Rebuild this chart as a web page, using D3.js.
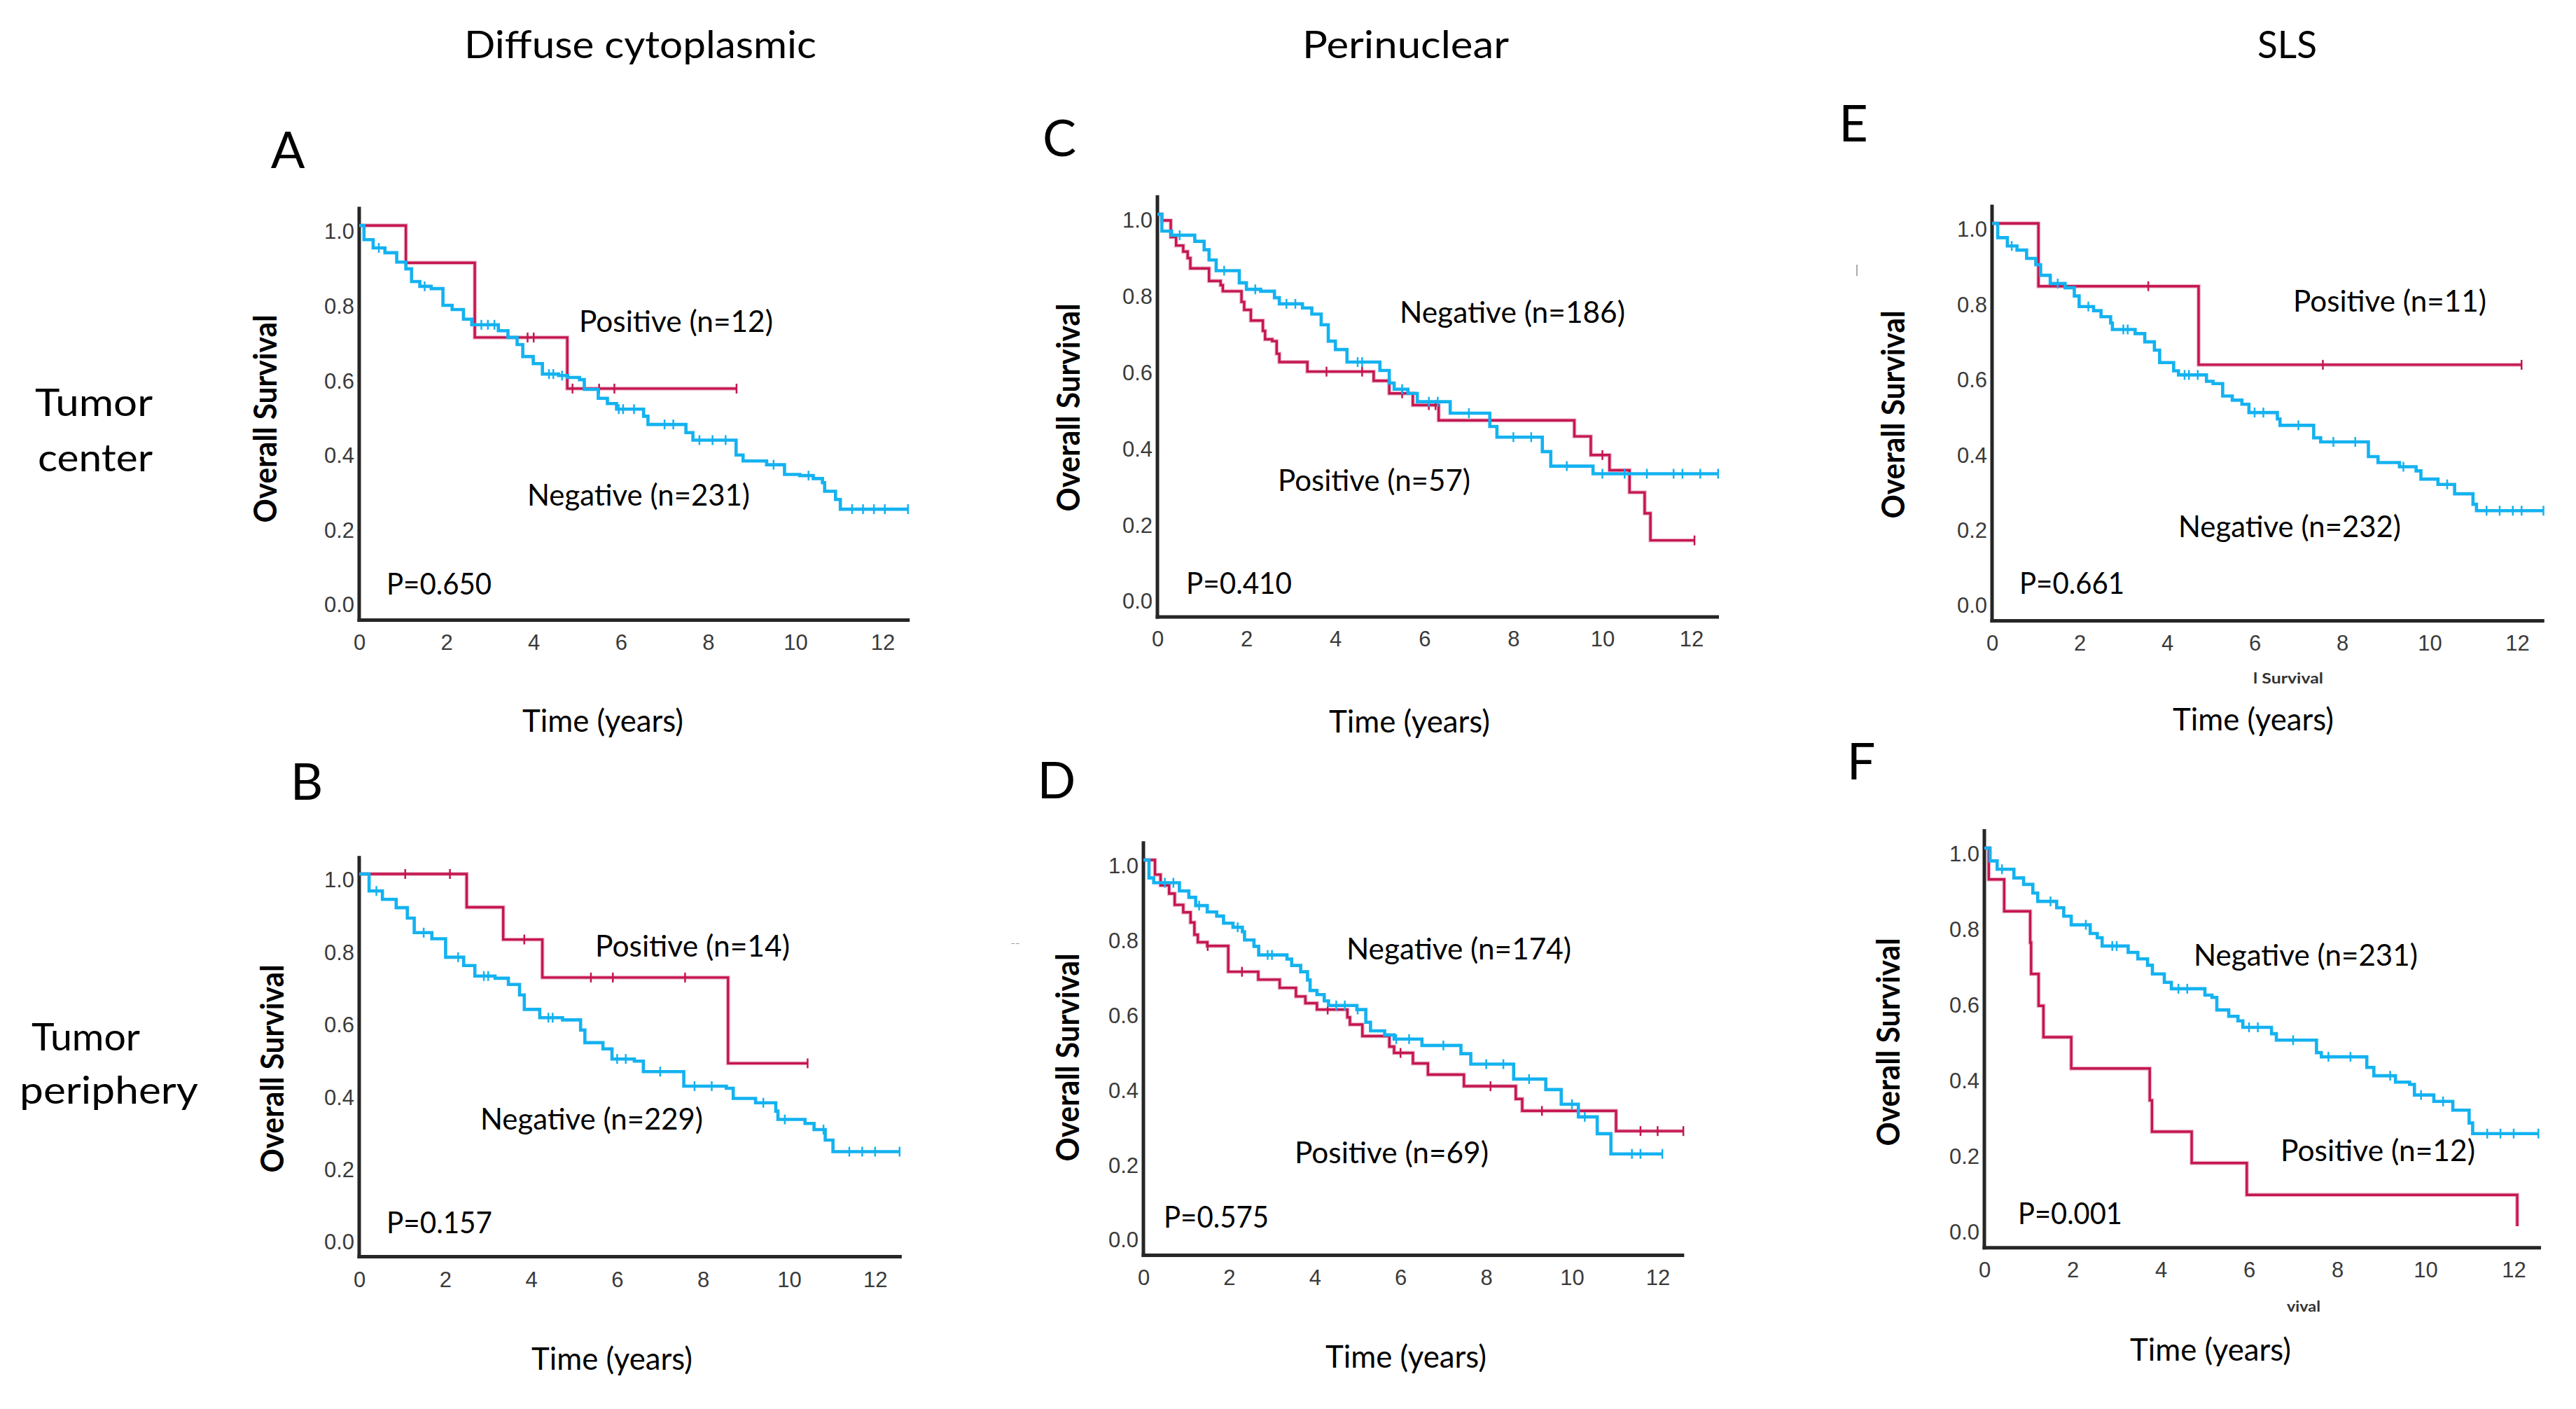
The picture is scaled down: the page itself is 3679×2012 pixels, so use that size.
<!DOCTYPE html>
<html>
<head>
<meta charset="utf-8">
<script src="https://cdn.jsdelivr.net/npm/d3@7"></script>
<style>
  html, body { margin: 0; padding: 0; background: #ffffff; }
  svg { display: block; }
</style>
</head>
<body>
<svg id="chart" width="3679" height="2012"></svg>
<script>
// ---------------- DATA ----------------
const xTicks = [0, 2, 4, 6, 8, 10, 12];
const yTicks = [0, 0.2, 0.4, 0.6, 0.8, 1.0];
const yTickLabels = ["0.0", "0.2", "0.4", "0.6", "0.8", "1.0"];
const colHeaders = ["Diffuse cytoplasmic", "Perinuclear", "SLS"];
const rowLabelsTop = ["Tumor", "center"];
const rowLabelsBottom = ["Tumor", "periphery"];
const panelIds = ["A", "B", "C", "D", "E", "F"];
const yAxisTitle = "Overall Survival";
const xAxisTitle = "Time (years)";

// Panel A (Diffuse cytoplasmic, tumor center)
const aPosT = [0, 1.07, 2.65, 4.77, 8.65];
const aPosS = [1, 0.9, 0.70, 0.563, 0.563];
const aPosCensor = [3.86, 4.0, 4.89, 5.5, 5.85, 8.65];
const aNegT = [0, 0.11, 0.32, 0.59, 0.86, 1.07, 1.2, 1.39, 1.65, 1.92, 2.13, 2.39, 2.58, 3.19, 3.41, 3.62, 3.75, 3.99, 4.2, 4.57, 4.78, 5.05, 5.16, 5.48, 5.69, 5.9, 6.52, 6.62, 7.49, 7.65, 8.64, 8.8, 9.34, 9.75, 10.1, 10.41, 10.62, 10.67, 10.92, 11.03, 12.58];
const aNegS = [1, 0.962, 0.94, 0.927, 0.902, 0.884, 0.85, 0.837, 0.831, 0.786, 0.775, 0.749, 0.734, 0.718, 0.70, 0.681, 0.649, 0.63, 0.602, 0.598, 0.593, 0.587, 0.561, 0.537, 0.523, 0.508, 0.489, 0.467, 0.445, 0.425, 0.385, 0.369, 0.359, 0.333, 0.33, 0.322, 0.311, 0.288, 0.266, 0.24, 0.24];
const aNegCensor = [0.45, 1.5, 2.8, 2.95, 3.1, 4.35, 4.45, 4.65, 5.95, 6.05, 6.3, 7.0, 7.2, 7.8, 8.1, 8.4, 9.5, 10.3, 11.3, 11.55, 11.8, 12.05, 12.58];
const aTexts = ["Positive (n=12)", "Negative (n=231)", "P=0.650"];

// Panel B (Diffuse cytoplasmic, tumor periphery)
const bPosT = [0, 2.5, 3.35, 4.26, 8.58, 10.43];
const bPosS = [1, 0.908, 0.819, 0.714, 0.477, 0.477];
const bPosCensor = [1.07, 2.11, 3.84, 5.39, 5.9, 7.58, 10.43];
const bNegT = [0, 0.23, 0.54, 0.86, 1.12, 1.28, 1.69, 2.01, 2.43, 2.69, 3.16, 3.47, 3.73, 3.84, 4.2, 4.73, 5.15, 5.25, 5.67, 5.88, 6.4, 6.61, 7.55, 8.54, 8.7, 9.22, 9.69, 9.74, 10.37, 10.58, 10.84, 11.02, 12.57];
const bNegS = [1, 0.953, 0.93, 0.907, 0.878, 0.838, 0.821, 0.77, 0.747, 0.718, 0.712, 0.695, 0.666, 0.626, 0.603, 0.597, 0.569, 0.534, 0.517, 0.489, 0.483, 0.454, 0.414, 0.408, 0.38, 0.368, 0.345, 0.322, 0.311, 0.294, 0.265, 0.233, 0.233];
const bNegCensor = [0.4, 1.5, 2.3, 2.9, 3.0, 4.4, 4.5, 6.0, 6.2, 7.0, 7.8, 8.2, 9.4, 9.9, 10.8, 11.4, 11.7, 12.0, 12.57];
const bTexts = ["Positive (n=14)", "Negative (n=229)", "P=0.157"];

// Panel C (Perinuclear, tumor center)
const cPosT = [0, 0.1, 0.3, 0.42, 0.58, 0.68, 0.74, 1.16, 1.42, 1.47, 1.89, 1.95, 2.1, 2.37, 2.42, 2.58, 2.68, 2.74, 3.37, 4.86, 5.21, 5.74, 6.32, 9.37, 9.74, 10.16, 10.61, 10.95, 11.08, 12.07];
const cPosS = [1, 0.984, 0.94, 0.918, 0.902, 0.885, 0.858, 0.825, 0.814, 0.798, 0.77, 0.749, 0.721, 0.694, 0.672, 0.667, 0.634, 0.612, 0.587, 0.563, 0.53, 0.499, 0.459, 0.417, 0.368, 0.328, 0.27, 0.215, 0.144, 0.144];
const cPosCensor = [3.8, 4.6, 5.5, 6.1, 6.25, 10.0, 12.07];
const cNegT = [0, 0.1, 0.32, 0.84, 1.05, 1.16, 1.32, 1.84, 2.0, 2.32, 2.63, 2.74, 3.26, 3.47, 3.68, 3.84, 4.0, 4.26, 5.0, 5.21, 5.32, 5.63, 5.84, 6.58, 7.47, 7.63, 8.65, 8.84, 9.79, 12.6];
const cNegS = [1, 0.956, 0.945, 0.929, 0.907, 0.88, 0.852, 0.82, 0.803, 0.798, 0.781, 0.765, 0.754, 0.738, 0.71, 0.667, 0.645, 0.612, 0.59, 0.557, 0.541, 0.53, 0.508, 0.478, 0.443, 0.415, 0.377, 0.339, 0.319, 0.319];
const cNegCensor = [0.5, 1.5, 2.2, 2.9, 3.1, 4.5, 4.6, 5.5, 6.1, 6.3, 7.0, 8.0, 8.4, 9.2, 10.0, 10.5, 11.0, 11.6, 11.8, 12.2, 12.6];
const cTexts = ["Negative (n=186)", "Positive (n=57)", "P=0.410"];

// Panel D (Perinuclear, tumor periphery)
const dPosT = [0, 0.27, 0.4, 0.6, 0.73, 0.93, 1.1, 1.19, 1.27, 1.49, 1.98, 2.68, 3.18, 3.56, 3.78, 4.05, 4.76, 4.82, 5.11, 5.74, 5.85, 6.29, 6.64, 7.48, 8.69, 8.84, 11.03, 12.6];
const dPosS = [1, 0.961, 0.932, 0.91, 0.88, 0.86, 0.833, 0.80, 0.78, 0.77, 0.701, 0.68, 0.658, 0.635, 0.617, 0.6, 0.579, 0.56, 0.529, 0.501, 0.484, 0.456, 0.426, 0.395, 0.361, 0.329, 0.275, 0.275];
const dPosCensor = [1.5, 2.3, 4.3, 6.0, 8.1, 9.3, 11.6, 12.0, 12.6];
const dNegT = [0, 0.13, 0.24, 0.84, 1.06, 1.22, 1.49, 1.71, 1.87, 2.09, 2.31, 2.36, 2.58, 2.69, 3.35, 3.46, 3.67, 3.83, 3.89, 4.05, 4.22, 4.32, 4.98, 5.19, 5.3, 5.63, 5.85, 6.5, 7.41, 7.64, 8.64, 9.39, 9.75, 10.15, 10.59, 10.91, 12.11];
const dNegS = [1, 0.952, 0.939, 0.917, 0.9, 0.878, 0.861, 0.85, 0.831, 0.82, 0.808, 0.786, 0.769, 0.746, 0.735, 0.718, 0.701, 0.679, 0.651, 0.64, 0.623, 0.611, 0.6, 0.566, 0.543, 0.532, 0.521, 0.504, 0.482, 0.454, 0.414, 0.386, 0.347, 0.313, 0.268, 0.214, 0.214];
const dNegCensor = [0.5, 0.7, 1.3, 2.2, 2.9, 3.0, 4.5, 4.7, 5.0, 5.9, 6.2, 7.0, 8.0, 8.4, 9.0, 10.0, 10.3, 11.4, 11.6, 12.11];
const dTexts = ["Negative (n=174)", "Positive (n=69)", "P=0.575"];

// Panel E (SLS, tumor center)
const ePosT = [0, 1.06, 4.72, 12.1];
const ePosS = [1, 0.833, 0.624, 0.624];
const ePosCensor = [3.57, 7.56, 12.1];
const eNegT = [0, 0.13, 0.35, 0.57, 0.79, 1.0, 1.11, 1.33, 1.67, 1.88, 1.99, 2.32, 2.49, 2.71, 2.75, 3.27, 3.49, 3.71, 3.83, 4.15, 4.26, 4.9, 5.05, 5.27, 5.49, 5.71, 5.87, 6.52, 6.58, 7.35, 7.51, 8.6, 8.82, 9.31, 9.69, 9.8, 10.19, 10.57, 10.99, 11.07, 12.6];
const eNegS = [1, 0.962, 0.94, 0.929, 0.907, 0.89, 0.862, 0.84, 0.829, 0.807, 0.779, 0.768, 0.752, 0.735, 0.718, 0.707, 0.685, 0.663, 0.63, 0.608, 0.597, 0.58, 0.574, 0.541, 0.53, 0.519, 0.497, 0.48, 0.463, 0.43, 0.419, 0.38, 0.364, 0.353, 0.342, 0.32, 0.306, 0.281, 0.253, 0.236, 0.236];
const eNegCensor = [0.45, 1.5, 2.2, 3.0, 3.1, 4.4, 4.5, 4.7, 6.0, 6.2, 7.0, 7.8, 8.3, 9.4, 10.4, 11.3, 11.6, 11.9, 12.1, 12.6];
const eTexts = ["Positive (n=11)", "Negative (n=232)", "P=0.661"];

// Panel F (SLS, tumor periphery)
const fPosT = [0, 0.1, 0.45, 1.04, 1.06, 1.23, 1.34, 1.97, 3.75, 3.8, 4.7, 5.95, 12.08];
const fPosS = [1, 0.917, 0.833, 0.75, 0.667, 0.583, 0.5, 0.417, 0.333, 0.25, 0.167, 0.083, 0.0];
const fPosCensor = [];
const fNegT = [0, 0.13, 0.29, 0.67, 0.89, 1.10, 1.21, 1.64, 1.8, 1.97, 2.4, 2.56, 2.67, 3.26, 3.48, 3.7, 3.81, 4.08, 4.24, 5.0, 5.16, 5.27, 5.54, 5.75, 5.86, 6.51, 6.62, 7.53, 7.64, 8.67, 8.83, 9.32, 9.64, 9.75, 10.19, 10.62, 10.99, 11.07, 12.56];
const fNegS = [1, 0.966, 0.944, 0.921, 0.904, 0.881, 0.859, 0.842, 0.82, 0.797, 0.774, 0.763, 0.741, 0.724, 0.707, 0.69, 0.667, 0.645, 0.628, 0.611, 0.605, 0.572, 0.555, 0.543, 0.526, 0.509, 0.492, 0.459, 0.448, 0.42, 0.398, 0.381, 0.375, 0.347, 0.33, 0.307, 0.273, 0.245, 0.245];
const fNegCensor = [0.4, 1.5, 2.3, 2.9, 3.0, 4.4, 4.6, 6.0, 6.2, 7.0, 7.8, 8.3, 9.2, 9.9, 10.4, 11.4, 11.7, 12.0, 12.56];
const fTexts = ["Negative (n=231)", "Positive (n=12)", "P=0.001"];

// ---------------- LAYOUT / STYLE ----------------
const COLOR_NEG = "#14B2F0";
const COLOR_POS = "#C4164F";
const AXIS_COLOR = "#262626";
const TEXT_FONT = "Lato, 'Open Sans', sans-serif";
const TICK_FONT = "'Liberation Sans', Arial, sans-serif";

// per-panel geometry: x0 = pixel of t=0, ppy = px per year, y1 = pixel of S=1, ppu = px per unit survival
const layout = {
  A: { x0: 513,  ppy: 62.3,  y1: 322,  ppu: 533, title: [411, 214],  ylab: [378, 598],  xlab: [861, 1029],
       texts: [[827, 1104, 459], [753, 1071, 707], [552, 702, 834]] },
  B: { x0: 513,  ppy: 61.4,  y1: 1248, ppu: 517, title: [438, 1116], ylab: [388, 1526], xlab: [874, 1940],
       texts: [[850, 1128, 1351], [686, 1004, 1598], [552, 703, 1746]] },
  C: { x0: 1653, ppy: 63.55, y1: 306,  ppu: 544, title: [1513, 197], ylab: [1525, 582], xlab: [2013, 1030],
       texts: [[1999, 2321, 446], [1825, 2100, 686], [1694, 1845, 833]] },
  D: { x0: 1633, ppy: 61.2,  y1: 1228, ppu: 534, title: [1509, 1114], ylab: [1524, 1510], xlab: [2008, 1937],
       texts: [[1923, 2244, 1355], [1849, 2126, 1646], [1662, 1812, 1738]] },
  E: { x0: 2845, ppy: 62.5,  y1: 319,  ppu: 537, title: [2647, 176], ylab: [2703, 592], xlab: [3218, 1027],
       texts: [[3275, 3551, 430], [3111, 3429, 752], [2884, 3034, 833]] },
  F: { x0: 2834, ppy: 63.0,  y1: 1211, ppu: 540, title: [2658, 1087], ylab: [2696, 1488], xlab: [3157, 1927],
       texts: [[3133, 3453, 1364], [3257, 3535, 1643], [2882, 3031, 1733]] }
};

const series = {
  A: { pos: [aPosT, aPosS, aPosCensor], neg: [aNegT, aNegS, aNegCensor], texts: aTexts },
  B: { pos: [bPosT, bPosS, bPosCensor], neg: [bNegT, bNegS, bNegCensor], texts: bTexts },
  C: { pos: [cPosT, cPosS, cPosCensor], neg: [cNegT, cNegS, cNegCensor], texts: cTexts },
  D: { pos: [dPosT, dPosS, dPosCensor], neg: [dNegT, dNegS, dNegCensor], texts: dTexts },
  E: { pos: [ePosT, ePosS, ePosCensor], neg: [eNegT, eNegS, eNegCensor], texts: eTexts },
  F: { pos: [fPosT, fPosS, fPosCensor], neg: [fNegT, fNegS, fNegCensor], texts: fTexts }
};

// ---------------- DRAW ----------------
const svg = d3.select("#chart");
svg.append("rect").attr("width", 3679).attr("height", 2012).attr("fill", "#ffffff");

function stepValue(T, S, t) {
  let v = S[0];
  for (let i = 0; i < T.length; i++) { if (T[i] <= t) v = S[i]; }
  return v;
}

function addText(sel, str, cx, cy, size, opts = {}) {
  const t = sel.append("text")
    .attr("x", cx).attr("y", cy + size * 0.36)
    .attr("font-family", opts.family || TEXT_FONT)
    .attr("font-size", size)
    .attr("font-weight", opts.weight || 400)
    .attr("fill", opts.fill || "#000")
    .attr("text-anchor", opts.anchor || "middle")
    .text(str);
  if (opts.len) t.attr("textLength", opts.len).attr("lengthAdjust", "spacingAndGlyphs");
  return t;
}

// column headers
const headerPos = [[663, 1166, 64], [1860, 2155, 64], [3224, 3309, 64]];
colHeaders.forEach((h, i) => {
  const p = headerPos[i];
  addText(svg, h, p[0], p[2], 54, { anchor: "start", len: p[1] - p[0] });
});

// row labels
const rowPos = [
  [[50, 218, 575], [54, 218, 654]],
  [[45, 200, 1481], [28, 283, 1557]]
];
[rowLabelsTop, rowLabelsBottom].forEach((lines, r) => {
  lines.forEach((l, k) => {
    const p = rowPos[r][k];
    addText(svg, l, p[0], p[2], 54, { anchor: "start", len: p[1] - p[0] });
  });
});

panelIds.forEach(id => {
  const L = layout[id];
  const D = series[id];
  const g = svg.append("g").attr("class", "panel-" + id);

  const x = d3.scaleLinear().domain([0, 12]).range([L.x0, L.x0 + 12 * L.ppy]);
  const y = d3.scaleLinear().domain([0, 1]).range([L.y1 + L.ppu, L.y1]);

  // panel letter
  addText(g, id, L.title[0], L.title[1], 72);

  // y tick labels
  const yAxis = d3.axisLeft(y).tickValues(yTicks).tickSize(0).tickPadding(7)
    .tickFormat((d, i) => yTickLabels[i]);
  const yg = g.append("g").attr("transform", `translate(${L.x0},9)`).call(yAxis);
  yg.select(".domain").remove();
  yg.selectAll("text").attr("font-family", TICK_FONT).attr("font-size", 31).attr("fill", "#3a3a3a");

  // x tick labels
  const xAxis = d3.axisBottom(x).tickValues(xTicks).tickSize(0).tickPadding(51).tickFormat(d3.format("d"));
  const xg = g.append("g").attr("transform", `translate(0,${y(0)})`).call(xAxis);
  xg.select(".domain").remove();
  xg.selectAll("text").attr("font-family", TICK_FONT).attr("font-size", 31).attr("fill", "#3a3a3a");

  // axis lines
  g.append("line")
    .attr("x1", x(0)).attr("x2", x(0))
    .attr("y1", y(1.05)).attr("y2", y(-0.057) + 2.5)
    .attr("stroke", AXIS_COLOR).attr("stroke-width", 5);
  g.append("line")
    .attr("x1", x(0) - 2.5).attr("x2", x(12.62))
    .attr("y1", y(-0.057)).attr("y2", y(-0.057))
    .attr("stroke", AXIS_COLOR).attr("stroke-width", 5);

  // curves
  const line = d3.line().x(d => x(d[0])).y(d => y(d[1])).curve(d3.curveStepAfter);
  function drawCurve(arr, color, width, halo) {
    const [T, S, C] = arr;
    const pts = T.map((t, i) => [t, S[i]]);
    if (halo) {
      g.append("path").datum(pts).attr("d", line).attr("fill", "none")
        .attr("stroke", color).attr("stroke-opacity", 0.3).attr("stroke-width", width + 2.5);
    }
    g.append("path").datum(pts)
      .attr("d", line)
      .attr("fill", "none")
      .attr("stroke", color)
      .attr("stroke-width", width)
      .attr("stroke-linejoin", "miter");
    g.selectAll(null).data(C).enter().append("line")
      .attr("x1", d => x(d)).attr("x2", d => x(d))
      .attr("y1", d => y(stepValue(T, S, d)) - 7)
      .attr("y2", d => y(stepValue(T, S, d)) + 7)
      .attr("stroke", color).attr("stroke-width", 2.5);
  }
  drawCurve(D.pos, COLOR_POS, 3.4, true);
  drawCurve(D.neg, COLOR_NEG, 4.6, false);

  // annotations
  D.texts.forEach((s, i) => {
    const p = L.texts[i];
    addText(g, s, p[0], p[2], 42, { anchor: "start", len: p[1] - p[0] });
  });

  // axis titles
  addText(g, xAxisTitle, L.xlab[0], L.xlab[1], 44, { len: 230 });
  g.append("text")
    .attr("transform", `translate(${L.ylab[0] + 46 * 0.36},${L.ylab[1]}) rotate(-90)`)
    .attr("font-family", TEXT_FONT).attr("font-size", 46).attr("font-weight", 700)
    .attr("text-anchor", "middle")
    .attr("textLength", 297).attr("lengthAdjust", "spacingAndGlyphs")
    .text(yAxisTitle);
});

// small leftover fragments visible in the original figure
addText(svg, "l Survival", 3268, 969, 20, { weight: 700, fill: "#333", len: 100 });
addText(svg, "vival", 3290, 1866, 20, { weight: 700, fill: "#333", len: 48 });
addText(svg, "\u02C9\u02C9", 1450, 1352, 16, { fill: "#999" });
svg.append("line").attr("x1", 2652).attr("x2", 2652).attr("y1", 378).attr("y2", 394)
  .attr("stroke", "#aaa").attr("stroke-width", 2);
</script>
</body>
</html>
